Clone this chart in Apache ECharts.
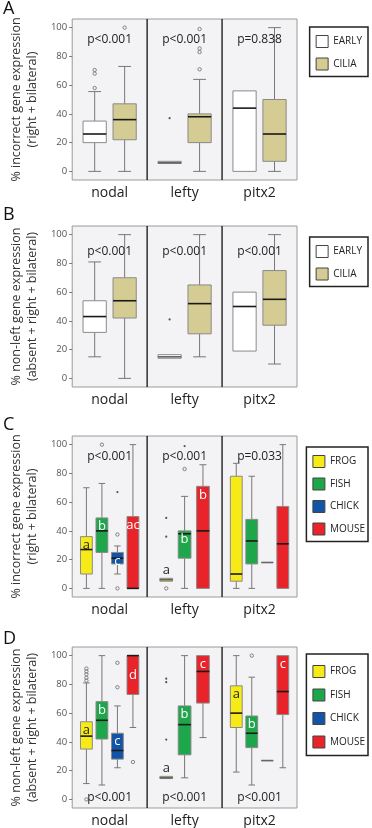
<!DOCTYPE html>
<html><head><meta charset="utf-8">
<script src="https://cdn.jsdelivr.net/npm/echarts@6/dist/echarts.min.js"></script>
<style>html,body{margin:0;padding:0;background:#fff}#c{width:372px;height:828px}</style>
</head><body><div id="c"></div>
<script>
// ---------- data ----------
const categories = ['nodal', 'lefty', 'pitx2'];
const yTickValues = [0, 20, 40, 60, 80, 100];
const groupsAB = ['EARLY', 'CILIA'];
const groupsCD = ['FROG', 'FISH', 'CHICK', 'MOUSE'];
const yTitleIncorrect = '% incorrect gene expression\n(right + bilateral)';
const yTitleNonLeft = '% non-left gene expression\n(absent + right + bilateral)';

// [low whisker, Q1, median, Q3, high whisker] per category (nodal, lefty, pitx2)
const A_EARLY = [[0, 20, 26, 35, 55.5], [5.5, 5.5, 6, 7, 7], [0, 0, 44, 56, 56]];
const A_CILIA = [[0, 22, 36, 47, 73], [0, 20, 38, 40, 64], [0, 7, 26, 50, 100]];
const B_EARLY = [[15, 32, 43, 54, 81], [14, 14, 15, 16.5, 16.5], [19, 19, 50, 60, 60]];
const B_CILIA = [[0, 42, 54, 70, 100], [15, 31, 52, 65, 100], [10, 37, 55, 75, 100]];
const C_FROG = [[0, 10, 27, 36, 70], [5, 5, 6, 7, 7], [0, 5, 10, 78, 87]];
const C_FISH = [[0, 25, 40, 49, 73], [0, 21, 38, 40, 64], [0, 17, 33, 48, 78]];
const C_CHICK = [[10, 17, 21, 25, 29.5], null, [18, 18, 18, 18, 18]];
const C_MOUSE = [[0, 0, 0, 50, 100], [0, 0, 40, 71, 86], [0, 0, 31, 57, 100]];
const D_FROG = [[11, 35, 44, 54, 81], [14.5, 14.5, 15, 16, 16], [19, 50, 60, 79, 100]];
const D_FISH = [[10, 42, 55, 68, 100], [15, 31, 52, 65, 100], [10, 36, 46, 58, 85]];
const D_CHICK = [[22, 28, 34, 46, 65], null, [27, 27, 27, 27, 27]];
const D_MOUSE = [[50, 73, 100, 100, 100], [43, 67, 89, 100, 100], [22, 59, 75, 100, 100]];

// outliers: [group index, category index, value, kind ('o' circle, '*' extreme)]
const A_outliers = [[0, 0, 58, 'o'], [0, 0, 68, 'o'], [0, 0, 70.5, 'o'], [1, 0, 100, 'o'], [0, 1, 37, '*'],
  [1, 1, 71, 'o'], [1, 1, 83, 'o'], [1, 1, 85.5, 'o'], [1, 1, 99, 'o']];
const B_outliers = [[0, 1, 41, '*']];
const C_outliers = [[1, 0, 100, 'o'], [2, 0, 37.5, 'o'], [2, 0, 67, '*'], [2, 0, 0, 'o'], [0, 1, 0, 'o'],
  [0, 1, 36, '*'], [0, 1, 49, '*'], [1, 1, 83, 'o'], [1, 1, 99, '*']];
const D_outliers = [[0, 0, 82.6, 'o'], [0, 0, 84.5, 'o'], [0, 0, 87, 'o'], [0, 0, 89, 'o'], [0, 0, 91, 'o'],
  [0, 0, 0, 'o'], [2, 0, 78, 'o'], [2, 0, 95, 'o'], [3, 0, 26, 'o'], [0, 1, 41.6, '*'], [0, 1, 81.5, '*'],
  [0, 1, 84, '*'], [1, 2, 100, 'o']];

// significance letters per group (nodal, lefty, pitx2)
const C_letters_FROG = ['a', 'a', ''];
const C_letters_FISH = ['b', 'b', ''];
const C_letters_CHICK = ['c', '', ''];
const C_letters_MOUSE = ['ac', 'b', ''];
const D_letters_FROG = ['a', 'a', 'a'];
const D_letters_FISH = ['b', 'b', 'b'];
const D_letters_CHICK = ['c', '', ''];
const D_letters_MOUSE = ['d', 'c', 'c'];
const noLetters = ['', '', ''];

const A_p = ['p<0.001', 'p<0.001', 'p=0.838'];
const B_p = ['p<0.001', 'p<0.001', 'p<0.001'];
const C_p = ['p<0.001', 'p<0.001', 'p=0.033'];
const D_p = ['p<0.001', 'p<0.001', 'p<0.001'];

// ---------- styling / layout ----------
const FONT = 'Open Sans';
const colorsAB = ['#ffffff', '#d4cc93'];
const colorsCD = ['#f6eb17', '#1ea64b', '#1354a6', '#e8232a'];
const letterColorsCD = ['#222222', '#ffffff', '#ffffff', '#ffffff'];
const SPACING = {1: 0, 2: 0.4, 3: 0.245, 4: 0.207};
const BOXW = {1: 0.3, 2: 0.31, 3: 0.17, 4: 0.158};

const panels = [
  {letter: 'A', top: 19, title: yTitleIncorrect, groups: groupsAB, stats: [A_EARLY, A_CILIA],
   letters: [noLetters, noLetters], colors: colorsAB, letterColors: ['#222', '#222'],
   outliers: A_outliers, p: A_p, pY: 92, legendTop: 27, legendPad: [8, 6, 6, 6], legendGap: 9.5, letterTop: 0},
  {letter: 'B', top: 226, title: yTitleNonLeft, groups: groupsAB, stats: [B_EARLY, B_CILIA],
   letters: [noLetters, noLetters], colors: colorsAB, letterColors: ['#222', '#222'],
   outliers: B_outliers, p: B_p, pY: 88, legendTop: 237, legendPad: [8, 6, 6, 6], legendGap: 9.5, letterTop: 206},
  {letter: 'C', top: 436, title: yTitleIncorrect, groups: groupsCD, stats: [C_FROG, C_FISH, C_CHICK, C_MOUSE],
   letters: [C_letters_FROG, C_letters_FISH, C_letters_CHICK, C_letters_MOUSE], colors: colorsCD,
   letterColors: letterColorsCD, outliers: C_outliers, p: C_p, pY: 92, legendTop: 447,
   legendPad: [8, 3, 6, 6], legendGap: 9.5, letterTop: 416},
  {letter: 'D', top: 647, title: yTitleNonLeft, groups: groupsCD, stats: [D_FROG, D_FISH, D_CHICK, D_MOUSE],
   letters: [D_letters_FROG, D_letters_FISH, D_letters_CHICK, D_letters_MOUSE], colors: colorsCD,
   letterColors: letterColorsCD, outliers: D_outliers, p: D_p, pY: 1, legendTop: 654,
   legendPad: [11, 3, 7, 6], legendGap: 10.5, letterTop: 630}
];

function groupCenter(api, cat, gIdx, statsArrs) {
  const present = [];
  statsArrs.forEach((arr, j) => { if (arr[cat]) present.push(j); });
  const k = present.length, pos = present.indexOf(gIdx);
  const bw = api.size([1, 0])[0];
  const c = api.coord([cat, 0])[0];
  return {cx: c + (pos - (k - 1) / 2) * SPACING[k] * bw, w: BOXW[k] * bw};
}

const grids = [], xAxes = [], yAxes = [], series = [], legends = [], graphics = [];

panels.forEach((P, pi) => {
  grids.push({left: 50, width: 247, top: P.top, height: 161, show: true,
    backgroundColor: '#f3f3f5', borderColor: '#9a9a9a', borderWidth: 1});
  xAxes.push({type: 'category', gridIndex: pi, data: categories,
    axisLine: {show: false}, axisTick: {show: false}, splitLine: {show: false},
    axisLabel: {fontSize: 14, color: '#222', margin: 6, fontFamily: FONT}});
  yAxes.push({type: 'value', gridIndex: pi, min: -6, max: 106,
    axisLine: {show: false}, splitLine: {show: false},
    axisTick: {show: true, customValues: yTickValues, length: 3, lineStyle: {color: '#777'}},
    axisLabel: {customValues: yTickValues, fontSize: 9.5, color: '#555', margin: 5, fontFamily: FONT},
    name: P.title, nameLocation: 'middle', nameRotate: 90, nameGap: 17,
    nameTextStyle: {fontSize: 12.5, color: '#333', lineHeight: 16, fontFamily: FONT}});

  // category dividers
  series.push({type: 'custom', xAxisIndex: pi, yAxisIndex: pi, silent: true,
    data: [[0, 0], [1, 0]],
    renderItem: (params, api) => {
      const cs = params.coordSys;
      const x = api.coord([api.value(0), 0])[0] + api.size([1, 0])[0] / 2;
      return {type: 'line', shape: {x1: x, y1: cs.y, x2: x, y2: cs.y + cs.height},
        style: {stroke: '#111', lineWidth: 1.3}};
    }});

  // box plots
  P.groups.forEach((name, g) => {
    series.push({type: 'custom', name, xAxisIndex: pi, yAxisIndex: pi, silent: true,
      itemStyle: {color: P.colors[g]},
      encode: {x: 0, y: [1, 2, 3, 4, 5]},
      data: P.stats[g].map((s, i) => s ? [i].concat(s) : null).filter(Boolean),
      renderItem: (params, api) => {
        const cat = api.value(0);
        const v = [1, 2, 3, 4, 5].map(d => api.value(d));
        const y = v.map(val => api.coord([cat, val])[1]);
        const {cx, w} = groupCenter(api, cat, g, P.stats);
        const capW = w * 0.55;
        const wl = {stroke: '#777', lineWidth: 1};
        const ch = [];
        if (v[0] < v[1]) {
          ch.push({type: 'line', shape: {x1: cx, y1: y[1], x2: cx, y2: y[0]}, style: wl});
          ch.push({type: 'line', shape: {x1: cx - capW / 2, y1: y[0], x2: cx + capW / 2, y2: y[0]}, style: wl});
        }
        if (v[4] > v[3]) {
          ch.push({type: 'line', shape: {x1: cx, y1: y[3], x2: cx, y2: y[4]}, style: wl});
          ch.push({type: 'line', shape: {x1: cx - capW / 2, y1: y[4], x2: cx + capW / 2, y2: y[4]}, style: wl});
        }
        const boxH = y[1] - y[3];
        ch.push({type: 'rect', shape: {x: cx - w / 2, y: y[3], width: w, height: boxH},
          style: {fill: P.colors[g], stroke: '#8a8a8a', lineWidth: 1}});
        ch.push({type: 'line', shape: {x1: cx - w / 2, y1: y[2], x2: cx + w / 2, y2: y[2]},
          style: {stroke: boxH < 5 ? '#666' : '#1a1a1a', lineWidth: 1.6}});
        const txt = P.letters[g][cat];
        if (txt) {
          let ty, va, fill = P.letterColors[g];
          if (boxH < 6) { ty = y[3] - 2; va = 'bottom'; fill = '#222'; }
          else if (v[2] === v[3]) { ty = y[3] + 13; va = 'top'; }
          else { ty = y[3] + 2; va = 'top'; }
          ch.push({type: 'text', x: cx, y: ty,
            style: {text: txt, fontSize: 13, fill, align: 'center', verticalAlign: va, fontFamily: FONT}});
        }
        return {type: 'group', children: ch};
      }});
  });

  // outliers
  series.push({type: 'custom', xAxisIndex: pi, yAxisIndex: pi, silent: true,
    data: P.outliers.map(o => [o[1], o[2]]),
    renderItem: (params, api) => {
      const o = P.outliers[params.dataIndex];
      const cat = api.value(0);
      const {cx} = groupCenter(api, cat, o[0], P.stats);
      const cy = api.coord([cat, api.value(1)])[1];
      return o[3] === 'o'
        ? {type: 'circle', shape: {cx, cy, r: 1.7}, style: {fill: 'none', stroke: '#777', lineWidth: 0.9}}
        : {type: 'circle', shape: {cx, cy, r: 1.1}, style: {fill: '#555'}};
    }});

  // p-values
  series.push({type: 'custom', xAxisIndex: pi, yAxisIndex: pi, silent: true,
    data: categories.map((c, i) => [i, P.pY]),
    renderItem: (params, api) => {
      const pt = api.coord([api.value(0), api.value(1)]);
      return {type: 'text', x: pt[0], y: pt[1], z2: 10,
        style: {text: P.p[params.dataIndex], fontSize: 12, fill: '#222',
          align: 'center', verticalAlign: 'middle', fontFamily: FONT}};
    }});

  legends.push({data: P.groups, orient: 'vertical', right: 4, top: P.legendTop,
    padding: P.legendPad, itemGap: P.legendGap, itemWidth: 12, itemHeight: 12, icon: 'rect',
    borderColor: '#222', borderWidth: 1.5, backgroundColor: '#fff', borderRadius: 0,
    selectedMode: false,
    itemStyle: {borderColor: '#444', borderWidth: 1},
    textStyle: {fontSize: 10, color: '#222', fontFamily: FONT}});

  graphics.push({type: 'text', left: 3, top: P.letterTop,
    style: {text: P.letter, fontSize: 18, fill: '#111', fontFamily: FONT}});
});

const chart = echarts.init(document.getElementById('c'), null, {renderer: 'canvas'});
chart.setOption({
  animation: false,
  grid: grids, xAxis: xAxes, yAxis: yAxes, series, legend: legends, graphic: graphics
});
</script></body></html>
